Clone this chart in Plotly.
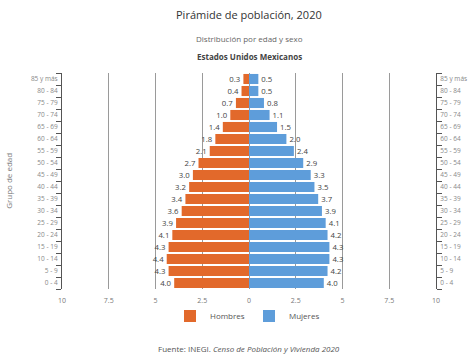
import plotly.graph_objects as go

groups = ["0 - 4", "5 - 9", "10 - 14", "15 - 19", "20 - 24", "25 - 29", "30 - 34", "35 - 39",
          "40 - 44", "45 - 49", "50 - 54", "55 - 59", "60 - 64", "65 - 69", "70 - 74",
          "75 - 79", "80 - 84", "85 y más"]
hombres = [4.0, 4.3, 4.4, 4.3, 4.1, 3.9, 3.6, 3.4, 3.2, 3.0, 2.7, 2.1, 1.8, 1.4, 1.0, 0.7, 0.4, 0.3]
mujeres = [4.0, 4.2, 4.3, 4.3, 4.2, 4.1, 3.9, 3.7, 3.5, 3.3, 2.9, 2.4, 2.0, 1.5, 1.1, 0.8, 0.5, 0.5]
xticks = [-10, -7.5, -5, -2.5, 0, 2.5, 5, 7.5, 10]
xticktext = ["10", "7.5", "5", "2.5", "0", "2.5", "5", "7.5", "10"]

FONT = "Open Sans"
ORANGE = "#E2692B"
BLUE = "#5E9DDA"

fig = go.Figure()
fig.add_trace(go.Bar(
    y=groups, x=[-v for v in hombres], orientation="h", name="Hombres",
    marker=dict(color=ORANGE, line=dict(width=0)),
    text=[f"{v:.1f}" for v in hombres], textposition="outside",
    textfont=dict(size=8.5, color="#444", family=FONT), cliponaxis=False,
))
fig.add_trace(go.Bar(
    y=groups, x=mujeres, orientation="h", name="Mujeres",
    marker=dict(color=BLUE, line=dict(width=0)),
    text=[f"{v:.1f}" for v in mujeres], textposition="outside",
    textfont=dict(size=8.5, color="#444", family=FONT), cliponaxis=False,
))
fig.add_trace(go.Scatter(
    y=groups, x=[0] * len(groups), yaxis="y2", mode="markers",
    marker=dict(opacity=0), showlegend=False, hoverinfo="skip",
))

axis_common = dict(
    type="category", categoryorder="array", categoryarray=groups,
    range=[-0.5, len(groups) - 0.5], tickson="boundaries", ticks="outside",
    ticklen=5, tickcolor="#555", showline=True, linecolor="#555", linewidth=1,
    tickfont=dict(size=6.5, color="#888", family=FONT), showgrid=False,
    automargin=False, ticklabelstandoff=2,
)

fig.update_layout(
    width=474, height=359,
    margin=dict(l=62, r=38, t=73, b=70, autoexpand=False),
    paper_bgcolor="white", plot_bgcolor="white",
    barmode="relative", bargap=0.16,
    font=dict(family=FONT),
    xaxis=dict(range=[-10, 10], tickvals=xticks, ticktext=xticktext,
               tickfont=dict(size=7, color="#777", family=FONT),
               showgrid=True, gridcolor="#9a9a9a", gridwidth=1,
               zeroline=False, showline=False, ticks="", fixedrange=True,
               automargin=False, ticklabelstandoff=6),
    yaxis=dict(side="left", **axis_common),
    yaxis2=dict(side="right", overlaying="y", **axis_common),
    showlegend=True,
    legend=dict(orientation="h", x=0.5, xanchor="center", y=-0.125, yanchor="middle",
                bgcolor="rgba(0,0,0,0)",
                font=dict(size=8, color="#555", family=FONT),
                itemsizing="constant", entrywidth=34, traceorder="normal"),
    annotations=[
        dict(text="Pirámide de población, 2020", x=0.5, y=(289 - 15) / 216, xref="paper", yref="paper",
             showarrow=False, font=dict(size=11, color="#333", family=FONT), yanchor="middle"),
        dict(text="Distribución por edad y sexo", x=0.5, y=(289 - 38) / 216, xref="paper", yref="paper",
             showarrow=False, font=dict(size=8, color="#666", family=FONT), yanchor="middle"),
        dict(text="<b>Estados Unidos Mexicanos</b>", x=0.5, y=(289 - 57) / 216, xref="paper", yref="paper",
             showarrow=False, font=dict(size=8, color="#444", family=FONT), yanchor="middle"),
        dict(text="Grupo de edad", x=(8 - 62) / 373, y=0.5, xref="paper", yref="paper", textangle=-90,
             showarrow=False, font=dict(size=8, color="#777", family=FONT), xanchor="center"),
        dict(text="Fuente: INEGI. <i>Censo de Población y Vivienda 2020</i>", x=0.5, y=(289 - 348) / 216,
             xref="paper", yref="paper", showarrow=False,
             font=dict(size=8, color="#555", family=FONT), yanchor="middle"),
    ],
)

fig.write_html("out.html", config={"displayModeBar": False},
               post_script="document.body.style.margin='0';document.body.style.overflow='hidden';")
